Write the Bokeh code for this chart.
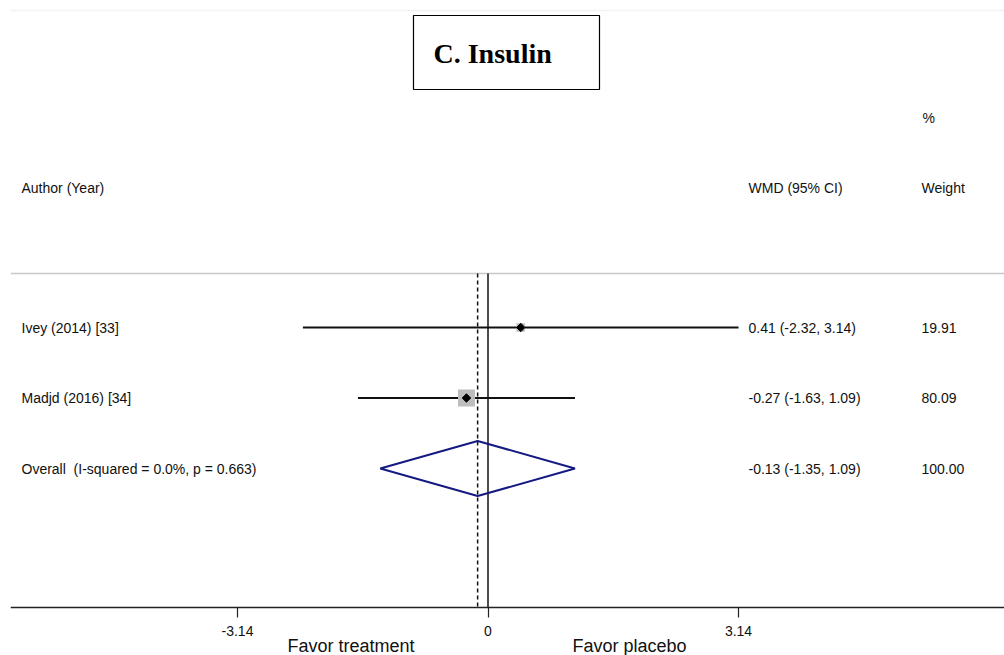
import math
from bokeh.plotting import figure
from bokeh.models import Range1d, FixedTicker, Label, ColumnDataSource
from bokeh.core.properties import value
from bokeh.embed import file_html
from bokeh.resources import INLINE

# ---------------- data ----------------
studies = ["Ivey (2014) [33]", "Madjd (2016) [34]"]
wmd = [0.41, -0.27]
ci_low = [-2.32, -1.63]
ci_high = [3.14, 1.09]
weights = [19.91, 80.09]

overall_label = "Overall \u00a0(I-squared = 0.0%, p = 0.663)"
overall_wmd = -0.13
overall_low = -1.35
overall_high = 1.09
overall_weight = 100.00

tick_values = [-3.14, 0, 3.14]
tick_labels = ["-3.14", "0", "3.14"]

# ---------------- layout helpers (pixel -> data) ----------------
X0, SX = 487.5, 79.78      # pixel of x=0, pixels per unit
Y0, SY = 327.0, 70.5       # pixel of row 0, pixels per row
def px2x(px):
    return (px - X0) / SX
def py2y(py):
    return (py - Y0) / SY

FONT = "Liberation Sans"

p = figure(width=1004, height=655, output_backend="svg", toolbar_location=None,
           x_range=Range1d(px2x(10), px2x(1004)),
           y_range=Range1d(py2y(655), py2y(0)),
           min_border_left=10, min_border_right=0, min_border_top=0,
           min_border_bottom=0, y_axis_location=None)
p.outline_line_color = None
p.grid.visible = False
p.background_fill_color = "white"
p.border_fill_color = "white"

# x axis, drawn inside the frame at the bottom of the panel
ax = p.xaxis[0]
ax.fixed_location = py2y(607)
ax.ticker = FixedTicker(ticks=tick_values)
ax.major_label_overrides = {v: l for v, l in zip(tick_values, tick_labels)}
ax.minor_tick_line_color = None
ax.major_tick_in = 0
ax.major_tick_out = 10
ax.major_tick_line_color = "#222222"
ax.major_tick_line_width = 1.2
ax.axis_line_color = "#222222"
ax.axis_line_width = 1.5
ax.major_label_text_font = FONT
ax.major_label_text_font_size = "14px"
ax.major_label_text_color = "#111111"
ax.major_label_standoff = 8

rows = list(range(len(studies)))
overall_row = len(studies)

# faint top line and separator line
p.segment(x0=[px2x(10)], y0=[py2y(10)], x1=[px2x(1004)], y1=[py2y(10)],
          line_color="#f2f2f2", line_width=1.5)
p.segment(x0=[px2x(10)], y0=[py2y(273)], x1=[px2x(1004)], y1=[py2y(273)],
          line_color="#c8c8c8", line_width=1.5)

# vertical reference lines
p.segment(x0=[0], y0=[py2y(273)], x1=[0], y1=[py2y(607)],
          line_color="#111111", line_width=1.5)
p.segment(x0=[overall_wmd], y0=[py2y(273)], x1=[overall_wmd], y1=[py2y(607)],
          line_color="#111111", line_width=1.5, line_dash="4 3")

# CI lines, weight boxes and point estimates
src = ColumnDataSource(dict(
    y=rows, est=wmd, lo=ci_low, hi=ci_high,
    size=[1.9 * (w ** 0.5) for w in weights],
))
p.segment(x0="lo", y0="y", x1="hi", y1="y", source=src,
          line_color="#111111", line_width=2)
p.scatter(x="est", y="y", size="size", marker="square", source=src,
          fill_color="#bdbdbd", line_color=None)
p.scatter(x="est", y="y", size=6, marker="square", angle=math.pi / 4, source=src,
          fill_color="black", line_color="black")

# overall diamond
h = 0.39
p.patch(x=[overall_low, overall_wmd, overall_high, overall_wmd],
        y=[overall_row, overall_row - h, overall_row, overall_row + h],
        fill_color=None, line_color="#141a82", line_width=2)

# table texts
labels = studies + [overall_label]
est_all = wmd + [overall_wmd]
lo_all = ci_low + [overall_low]
hi_all = ci_high + [overall_high]
w_all = weights + [overall_weight]
ci_text = ["%.2f (%.2f, %.2f)" % (e, l, u) for e, l, u in zip(est_all, lo_all, hi_all)]
w_text = ["%.2f" % w for w in w_all]
ys = rows + [overall_row]

tsrc = ColumnDataSource(dict(y=ys, lab=labels, ci=ci_text, w=w_text))
common = dict(text_font=value(FONT), text_font_size="14px", text_color="#111111",
              text_baseline="middle", text_align="left", source=tsrc)
p.text(x=px2x(21), y="y", text="lab", **common)
p.text(x=px2x(748), y="y", text="ci", **common)
p.text(x=px2x(921), y="y", text="w", **common)

# headers
for txt, xp, yp in [("Author (Year)", 21, 187), ("WMD (95% CI)", 748, 187),
                    ("Weight", 921, 187), ("%", 922, 117)]:
    p.add_layout(Label(x=px2x(xp), y=py2y(yp), text=txt, text_font=FONT,
                       text_font_size="14px", text_color="#111111",
                       text_baseline="middle", text_align="left"))

# title box
p.quad(left=[px2x(413)], right=[px2x(599)], top=[py2y(15)], bottom=[py2y(89)],
       fill_color="white", line_color="black", line_width=1.2)
p.add_layout(Label(x=px2x(433), y=py2y(53), text="C. Insulin",
                   text_font="Liberation Serif", text_font_style="bold",
                   text_font_size="28px", text_color="black",
                   text_baseline="middle", text_align="left"))

# favor labels
for txt, xp in [("Favor treatment", 287), ("Favor placebo", 572)]:
    p.add_layout(Label(x=px2x(xp), y=py2y(645), text=txt, text_font=FONT,
                       text_font_size="18px", text_color="#111111",
                       text_baseline="middle", text_align="left"))

open("out.html", "w").write(file_html(p, INLINE))
